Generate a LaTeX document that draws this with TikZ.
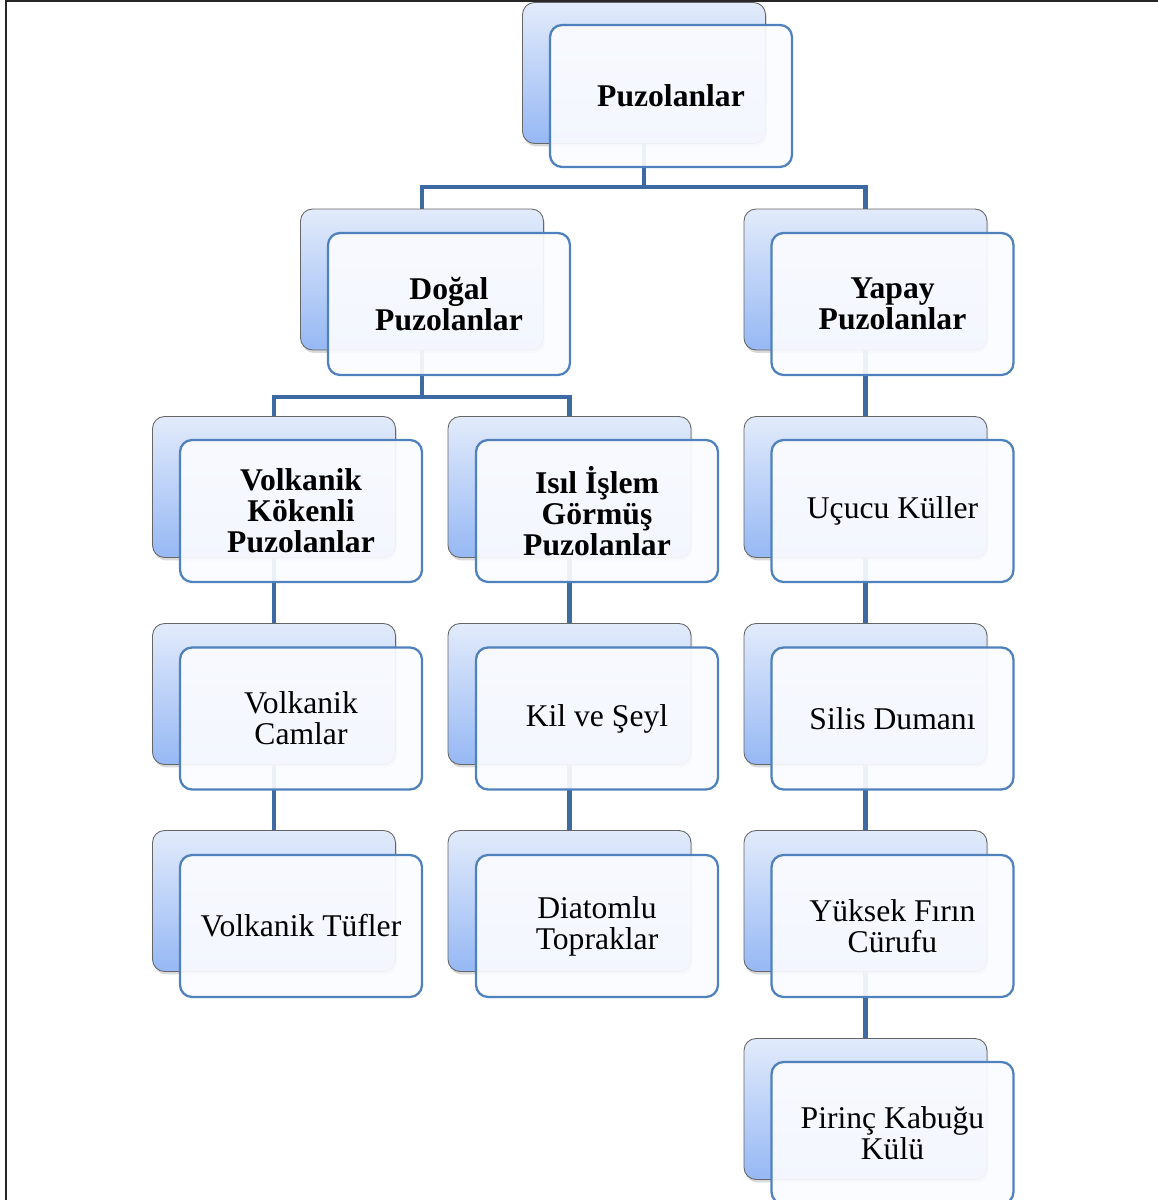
\documentclass[tikz,border=0pt]{standalone}
\usepackage{fontspec}
\setmainfont{Liberation Serif}
\usetikzlibrary{shadows,backgrounds}
\definecolor{boxline}{RGB}{79,129,189}
\definecolor{linkblue}{RGB}{62,106,164}
\definecolor{backtop}{RGB}{226,235,251}
\definecolor{backbot}{RGB}{150,184,244}
\definecolor{frontfill}{RGB}{251,252,255}
\tikzset{
	backbox/.style={draw=black!60, line width=0.5pt, rounded corners=0.24cm,
		minimum width=4.86cm, minimum height=2.82cm,
		top color=backtop, bottom color=backbot,
		drop shadow={shadow xshift=0.03cm, shadow yshift=-0.06cm, opacity=0.3}},
	frontbox/.style={draw=boxline, line width=1.3pt, rounded corners=0.24cm,
		minimum width=4.84cm, minimum height=2.84cm,
		fill=frontfill, fill opacity=0.92, text opacity=1, align=center,
		font=\fontsize{18}{17.7}\selectfont},
	frontbold/.style={frontbox, font=\fontsize{18}{17.7}\selectfont\bfseries},
	link/.style={draw=linkblue, line width=2.3pt}
}
\begin{document}
\begin{tikzpicture}[x=0.02cm,y=0.02cm]
	\clip (0,0) rectangle (1158,1200);
	% frame
	\draw[line width=1.7pt, black!85] (6,0) -- (6,1199) -- (1158,1199);
	% level 1
	\node[backbox] (pzB) at (644,1127) {};
	\node[frontbold] (pzF) at (671,1104) {Puzolanlar};
	% level 2
	\node[backbox] (dgB) at (422,920.5) {};
	\node[frontbold] (dgF) at (449,896) {Doğal\\Puzolanlar};
	\node[backbox] (ypB) at (865.5,920.5) {};
	\node[frontbold] (ypF) at (892.5,896) {Yapay\\Puzolanlar};
	% level 3
	\node[backbox] (vkB) at (274,713) {};
	\node[frontbold] (vkF) at (301,689) {Volkanik\\Kökenli\\Puzolanlar};
	\node[backbox] (isB) at (569.5,713) {};
	\node[frontbold] (isF) at (597,689) {Isıl İşlem\\Görmüş\\Puzolanlar};
	\node[backbox] (ucB) at (865.5,713) {};
	\node[frontbox] (ucF) at (892.5,689) {Uçucu Küller};
	% level 4
	\node[backbox] (vcB) at (274,506) {};
	\node[frontbox] (vcF) at (301,481.5) {Volkanik\\Camlar};
	\node[backbox] (ksB) at (569.5,506) {};
	\node[frontbox] (ksF) at (597,481.5) {Kil ve Şeyl};
	\node[backbox] (sdB) at (865.5,506) {};
	\node[frontbox] (sdF) at (892.5,481.5) {Silis Dumanı};
	% level 5
	\node[backbox] (vtB) at (274,299) {};
	\node[frontbox] (vtF) at (301,274) {Volkanik Tüfler};
	\node[backbox] (dtB) at (569.5,299) {};
	\node[frontbox] (dtF) at (597,274) {Diatomlu\\Topraklar};
	\node[backbox] (yfB) at (865.5,299) {};
	\node[frontbox] (yfF) at (892.5,274) {Yüksek Fırın\\Cürufu};
	% level 6
	\node[backbox] (pkB) at (865.5,91) {};
	\node[frontbox] (pkF) at (892.5,67) {Pirinç Kabuğu\\Külü};
	% connectors
	\begin{pgfonlayer}{background}
		\coordinate (pzJ) at (644,1013);
		\coordinate (dgJ) at (422,803);
		\draw[link] (pzB.south) -- (pzJ) -| (dgB.north);
		\draw[link] (pzJ) -| (ypB.north);
		\draw[link] (dgB.south) -- (dgJ) -| (vkB.north);
		\draw[link] (dgJ) -| (isB.north);
		\draw[link] (ypB.south) -- (ucB.north);
		\draw[link] (vkB.south) -- (vcB.north);
		\draw[link] (vcB.south) -- (vtB.north);
		\draw[link] (isB.south) -- (ksB.north);
		\draw[link] (ksB.south) -- (dtB.north);
		\draw[link] (ucB.south) -- (sdB.north);
		\draw[link] (sdB.south) -- (yfB.north);
		\draw[link] (yfB.south) -- (pkB.north);
	\end{pgfonlayer}
\end{tikzpicture}
\end{document}
